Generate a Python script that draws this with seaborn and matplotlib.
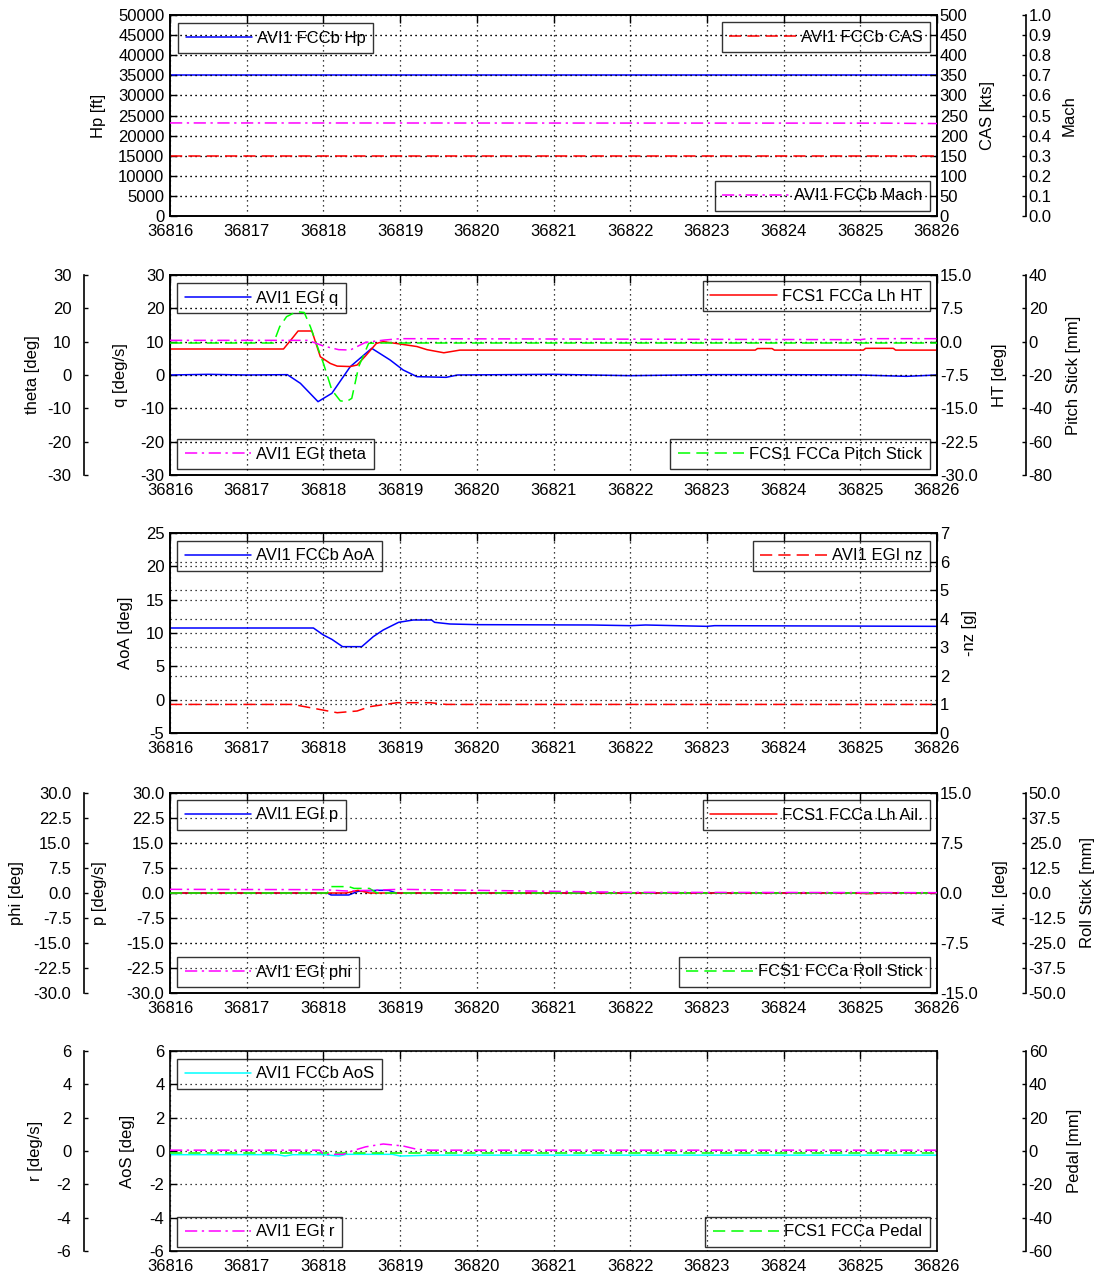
import numpy as np
import pandas as pd
import seaborn as sns
import matplotlib
matplotlib.use("Agg")
import matplotlib.pyplot as plt
from matplotlib.ticker import FormatStrFormatter, FixedLocator

# ---------------- data ----------------
XTICKS = [36816, 36817, 36818, 36819, 36820, 36821, 36822, 36823, 36824, 36825, 36826]

# Panel 1
t_hp = [36816, 36826]
hp = [35000, 35000]
t_cas = [36816, 36826]
cas = [150, 150]
t_mach = [36816, 36825.3, 36826]
mach = [0.463, 0.462, 0.460]

# Panel 2
t_q = [36816, 36816.5, 36817.0, 36817.53, 36817.7, 36817.93, 36818.11, 36818.35, 36818.63,
       36818.87, 36819.04, 36819.22, 36819.6, 36819.75, 36821.0, 36822.0, 36823.0, 36824.0,
       36825.0, 36825.6, 36826]
q = [0.0, 0.2, 0.0, 0.1, -2.5, -8.0, -5.5, 2.5, 8.0, 4.5, 1.5, -0.5, -0.7, 0.0, 0.2, -0.2,
     0.1, 0.1, 0.0, -0.4, 0.0]
t_theta = [36816, 36817.8, 36818.0, 36818.2, 36818.35, 36818.55, 36818.8, 36819.0, 36825.0,
           36825.1, 36826]
theta = [10.4, 10.4, 8.7, 7.6, 7.5, 9.8, 10.5, 10.9, 10.6, 10.9, 10.9]
t_ht = [36816, 36817.48, 36817.61, 36817.67, 36817.85, 36817.96, 36818.09, 36818.18, 36818.35,
        36818.44, 36818.56, 36818.69, 36818.78, 36818.95, 36819.22, 36819.35, 36819.57,
        36819.78, 36823.63, 36823.66, 36823.85, 36823.88, 36825.04, 36825.07, 36825.43,
        36825.46, 36826]
ht = [-1.65, -1.65, 1.1, 2.4, 2.4, -3.4, -4.9, -5.5, -5.6, -5.25, -3.0, -0.4, 0.0, -0.4,
      -1.1, -1.8, -2.5, -1.9, -1.9, -1.55, -1.55, -1.9, -1.9, -1.5, -1.5, -1.9, -1.9]
t_ps = [36816, 36817.35, 36817.43, 36817.52, 36817.65, 36817.75, 36817.83, 36818.0, 36818.11,
        36818.22, 36818.3, 36818.37, 36818.46, 36818.59, 36818.7, 36826]
pstick = [-0.8, -0.8, 9.0, 15.0, 18.0, 17.5, 9.0, -13.0, -29.0, -35.5, -36.0, -34.0, -15.0,
          -1.0, -0.8, -0.8]

# Panel 3
t_aoa = [36816, 36817.87, 36818.0, 36818.11, 36818.25, 36818.5, 36818.65, 36818.78, 36818.98,
         36819.17, 36819.41, 36819.45, 36819.65, 36820.02, 36821.5, 36822.0, 36822.2,
         36823.0, 36823.1, 36826]
aoa = [10.75, 10.75, 9.7, 9.05, 7.95, 7.95, 9.45, 10.45, 11.6, 11.95, 11.95, 11.6, 11.35,
       11.25, 11.2, 11.1, 11.2, 11.0, 11.1, 11.0]
t_nz = [36816, 36817.6, 36818.0, 36818.18, 36818.44, 36818.6, 36818.96, 36819.4, 36819.6, 36826]
nz = [1.0, 1.0, 0.8, 0.71, 0.77, 0.92, 1.06, 1.06, 1.0, 1.0]

# Panel 4
t_phi = [36816, 36818.0, 36818.3, 36819.0, 36820.0, 36821.0, 36822.0, 36826]
phi = [1.1, 1.0, 0.6, 1.1, 0.8, 0.5, 0.2, 0.1]
t_p = [36816, 36818.05, 36818.1, 36818.33, 36818.45, 36818.7, 36818.85, 36818.95, 36826]
p = [0.0, 0.0, -0.6, -0.6, 0.5, 0.8, 0.8, 0.0, 0.0]
t_ail = [36816, 36818.3, 36818.45, 36818.6, 36824.9, 36825.1, 36825.3, 36826]
ail = [0.0, 0.0, 0.4, 0.0, 0.0, -0.1, 0.0, 0.0]
t_roll = [36816, 36818.05, 36818.1, 36818.33, 36818.4, 36818.6, 36818.7, 36826]
roll = [0.0, 0.0, 3.2, 3.2, 2.3, 2.3, 0.0, 0.0]

# Panel 5
t_aos = [36816, 36817.4, 36817.5, 36817.6, 36818.0, 36818.2, 36818.3, 36818.9, 36819.0,
         36819.4, 36826]
aos = [-0.22, -0.22, -0.3, -0.22, -0.22, -0.3, -0.2, -0.2, -0.3, -0.25, -0.25]
t_r = [36816, 36817.95, 36818.0, 36818.26, 36818.37, 36818.55, 36818.78, 36819.04, 36819.22,
       36819.4, 36826]
r = [0.05, 0.05, -0.2, -0.2, 0.0, 0.25, 0.42, 0.3, 0.1, 0.05, 0.05]
t_ped = [36816, 36826]
pedal = [-1.0, -1.0]

# ---------------- style ----------------
sns.set_theme(style="white")
plt.rcParams["font.family"] = ["Liberation Sans", "DejaVu Sans"]
plt.rcParams["axes.unicode_minus"] = False
plt.rcParams["axes.edgecolor"] = "black"
plt.rcParams["text.color"] = "black"
plt.rcParams["axes.labelcolor"] = "black"
plt.rcParams["xtick.color"] = "black"
plt.rcParams["ytick.color"] = "black"

FS = 12
BLUE, RED, MAG, GRN, CYAN = "#0000FF", "#FF0000", "#FF00FF", "#00FF00", "#00FFFF"
DASH = (0, (8, 4))
DASHDOT = (0, (8, 3, 1.5, 3))
GRID = dict(color="black", linestyle=(0, (1, 3)), linewidth=0.9)

W, H = 1110, 1279
fig = plt.figure(figsize=(W / 100, H / 100), dpi=100)

L_PX, R_PX = 170, 937
panels_px = [(15, 216), (275, 475), (533, 733), (793, 993), (1051, 1251)]
OUT_R = 64  # points
OUT_L = 62


def frac(top, bot):
    return [L_PX / W, 1 - bot / H, (R_PX - L_PX) / W, (bot - top) / H]


def draw(ax, t, v, color, ls, lab):
    sns.lineplot(x=t, y=v, ax=ax, color=color, linestyle=ls, linewidth=1.1,
                 estimator=None, sort=False, legend=False)
    line = ax.lines[-1]
    line.set_label(lab)
    return line


def leg(ax, line, loc, anchor):
    lg = ax.legend(handles=[line], loc=loc, bbox_to_anchor=anchor, borderaxespad=0,
                   fontsize=FS, handlelength=4, handletextpad=0.3, borderpad=0.45,
                   fancybox=False, frameon=True)
    fr = lg.get_frame()
    fr.set_facecolor("none")
    fr.set_edgecolor("black")
    fr.set_linewidth(1.0)
    return lg


def setup_y(ax, lim, ticks, fmt, side, pad):
    ax.set_ylim(*lim)
    ax.yaxis.set_major_locator(FixedLocator(ticks))
    ax.yaxis.set_major_formatter(FormatStrFormatter(fmt))
    ax.tick_params(axis="y", direction="in", labelsize=FS, pad=pad, length=5, width=1)


def main_axes(i, ylim, yticks, yfmt, ylabel, lab_x):
    ax = fig.add_axes(frac(*panels_px[i]))
    ax.set_xlim(36816, 36826)
    ax.xaxis.set_major_locator(FixedLocator(XTICKS))
    ax.xaxis.set_major_formatter(FormatStrFormatter("%d"))
    ax.tick_params(axis="x", direction="in", labelsize=FS, pad=6, length=6, width=1, top=True)
    setup_y(ax, ylim, yticks, yfmt, "left", 4)
    ax.tick_params(axis="y", left=True, right=False)
    for s in ax.spines.values():
        s.set_linewidth(1.2)
        s.set_color("black")
    ax.grid(True, **GRID)
    ax.set_ylabel(ylabel, fontsize=FS)
    ax.yaxis.set_label_coords(lab_x, 0.5)
    return ax


def inner_right(ax, ylim, yticks, yfmt, ylabel, lab_x, grid=True):
    tw = ax.twinx()
    setup_y(tw, ylim, yticks, yfmt, "right", 2)
    tw.tick_params(axis="y", right=True, left=False)
    for s in tw.spines.values():
        s.set_linewidth(1.2)
    if grid:
        tw.grid(True, axis="y", **GRID)
    tw.set_ylabel(ylabel, fontsize=FS)
    tw.yaxis.set_label_coords(lab_x, 0.5)
    return tw


def outer(ax, side, ylim, yticks, yfmt, ylabel, lab_x):
    o = ax.twinx()
    o.patch.set_visible(False)
    for s in ["top", "bottom", "left", "right"]:
        o.spines[s].set_visible(False)
    if side == "left":
        o.yaxis.set_ticks_position("left")
        o.yaxis.set_label_position("left")
        o.spines["left"].set_visible(True)
        o.spines["left"].set_position(("outward", OUT_L))
        o.spines["left"].set_linewidth(1.2)
        setup_y(o, ylim, yticks, yfmt, "left", 9)
        o.tick_params(axis="y", left=True, right=False, labelleft=True, labelright=False, length=3)
    else:
        o.spines["right"].set_visible(True)
        o.spines["right"].set_position(("outward", OUT_R))
        o.spines["right"].set_linewidth(1.2)
        setup_y(o, ylim, yticks, yfmt, "right", 2)
        o.tick_params(axis="y", right=True, left=False, length=3)
    o.set_ylabel(ylabel, fontsize=FS)
    o.yaxis.set_label_coords(lab_x, 0.5)
    return o


AW = R_PX - L_PX


def ax_x(px):
    return (px - L_PX) / AW


# ---------- Panel 1 ----------
ax1 = main_axes(0, (0, 50000), list(range(0, 50001, 5000)), "%d", "Hp [ft]", ax_x(106))
tw1 = inner_right(ax1, (0, 500), list(range(0, 501, 50)), "%d", "CAS [kts]", ax_x(980))
o1 = outer(ax1, "right", (0, 1.0), [i / 10 for i in range(11)], "%.1f", "Mach", ax_x(1062))
l_hp = draw(ax1, t_hp, hp, BLUE, "-", "AVI1 FCCb Hp")
l_cas = draw(tw1, t_cas, cas, RED, DASH, "AVI1 FCCb CAS")
l_mach = draw(o1, t_mach, mach, MAG, DASHDOT, "AVI1 FCCb Mach")
leg(ax1, l_hp, "upper left", (8 / AW, 1 - 8 / 201))
leg(tw1, l_cas, "upper right", (1 - 7 / AW, 1 - 7 / 201))
leg(o1, l_mach, "lower right", (1 - 7 / AW, 5 / 201))

# ---------- Panel 2 ----------
ax2 = main_axes(1, (-30, 30), list(range(-30, 31, 10)), "%d", "q [deg/s]", ax_x(128))
tw2 = inner_right(ax2, (-30, 15), [-30, -22.5, -15, -7.5, 0, 7.5, 15], "%.1f", "HT [deg]", ax_x(992))
o2r = outer(ax2, "right", (-80, 40), list(range(-80, 41, 20)), "%d", "Pitch Stick [mm]", ax_x(1066))
o2l = outer(ax2, "left", (-30, 30), list(range(-30, 31, 10)), "%d", "theta [deg]", ax_x(40))
l_q = draw(ax2, t_q, q, BLUE, "-", "AVI1 EGI q")
l_ht = draw(tw2, t_ht, ht, RED, "-", "FCS1 FCCa Lh HT")
l_ps = draw(o2r, t_ps, pstick, GRN, DASH, "FCS1 FCCa Pitch Stick")
l_th = draw(o2l, t_theta, theta, MAG, DASHDOT, "AVI1 EGI theta")
leg(ax2, l_q, "upper left", (7 / AW, 1 - 8 / 200))
leg(tw2, l_ht, "upper right", (1 - 7 / AW, 1 - 6 / 200))
leg(o2l, l_th, "lower left", (7 / AW, 6 / 200))
leg(o2r, l_ps, "lower right", (1 - 7 / AW, 6 / 200))

# ---------- Panel 3 ----------
ax3 = main_axes(2, (-5, 25), list(range(-5, 26, 5)), "%d", "AoA [deg]", ax_x(133))
tw3 = inner_right(ax3, (0, 7), list(range(0, 8)), "%d", "-nz [g]", ax_x(962))
l_aoa = draw(ax3, t_aoa, aoa, BLUE, "-", "AVI1 FCCb AoA")
l_nz = draw(tw3, t_nz, nz, RED, DASH, "AVI1 EGI nz")
leg(ax3, l_aoa, "upper left", (7 / AW, 1 - 8 / 200))
leg(tw3, l_nz, "upper right", (1 - 7 / AW, 1 - 8 / 200))

# ---------- Panel 4 ----------
t75 = [-30, -22.5, -15, -7.5, 0, 7.5, 15, 22.5, 30]
ax4 = main_axes(3, (-30, 30), t75, "%.1f", "p [deg/s]", ax_x(107))
tw4 = inner_right(ax4, (-15, 15), [-15, -7.5, 0, 7.5, 15], "%.1f", "Ail. [deg]", ax_x(993))
o4r = outer(ax4, "right", (-50, 50), [-50, -37.5, -25, -12.5, 0, 12.5, 25, 37.5, 50], "%.1f",
            "Roll Stick [mm]", ax_x(1080))
o4l = outer(ax4, "left", (-30, 30), t75, "%.1f", "phi [deg]", ax_x(24))
l_p = draw(ax4, t_p, p, BLUE, "-", "AVI1 EGI p")
l_ail = draw(tw4, t_ail, ail, RED, "-", "FCS1 FCCa Lh Ail.")
l_roll = draw(o4r, t_roll, roll, GRN, DASH, "FCS1 FCCa Roll Stick")
l_phi = draw(o4l, t_phi, phi, MAG, DASHDOT, "AVI1 EGI phi")
leg(ax4, l_p, "upper left", (7 / AW, 1 - 7 / 200))
leg(tw4, l_ail, "upper right", (1 - 7 / AW, 1 - 7 / 200))
leg(o4l, l_phi, "lower left", (7 / AW, 6 / 200))
leg(o4r, l_roll, "lower right", (1 - 7 / AW, 6 / 200))

# ---------- Panel 5 ----------
ax5 = main_axes(4, (-6, 6), list(range(-6, 7, 2)), "%d", "AoS [deg]", ax_x(135))
o5r = outer(ax5, "right", (-60, 60), list(range(-60, 61, 20)), "%d", "Pedal [mm]", ax_x(1067))
o5l = outer(ax5, "left", (-6, 6), list(range(-6, 7, 2)), "%d", "r [deg/s]", ax_x(43))
l_aos = draw(ax5, t_aos, aos, CYAN, "-", "AVI1 FCCb AoS")
l_ped = draw(o5r, t_ped, pedal, GRN, DASH, "FCS1 FCCa Pedal")
l_r = draw(o5l, t_r, r, MAG, DASHDOT, "AVI1 EGI r")
leg(ax5, l_aos, "upper left", (7 / AW, 1 - 8 / 200))
leg(o5l, l_r, "lower left", (7 / AW, 4 / 200))
leg(o5r, l_ped, "lower right", (1 - 7 / AW, 4 / 200))

fig.savefig("out.png", dpi=100, facecolor="white")
